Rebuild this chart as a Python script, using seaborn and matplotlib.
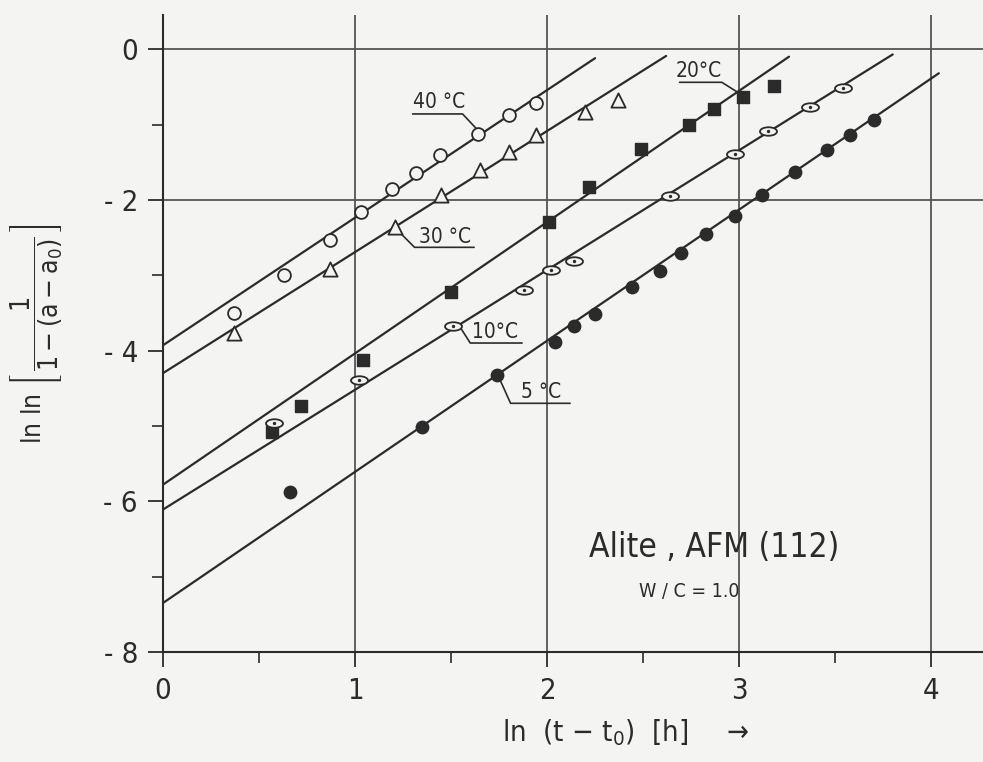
import matplotlib
matplotlib.use("Agg")
import matplotlib.pyplot as plt
from matplotlib.path import Path
import pandas as pd
import seaborn as sns

# Values
temps = ["40 °C", "30 °C", "20°C", "10°C", "5 °C"]

x_40 = [0.37, 0.63, 0.87, 1.03, 1.19, 1.32, 1.44, 1.64, 1.80, 1.94]
y_40 = [-3.50, -3.00, -2.53, -2.16, -1.85, -1.65, -1.40, -1.13, -0.88, -0.72]

x_30 = [0.37, 0.87, 1.21, 1.45, 1.65, 1.80, 1.94, 2.20, 2.37]
y_30 = [-3.77, -2.92, -2.36, -1.94, -1.60, -1.36, -1.14, -0.83, -0.68]

x_20 = [0.57, 0.72, 1.04, 1.50, 2.01, 2.22, 2.49, 2.74, 2.87, 3.02, 3.18]
y_20 = [-5.08, -4.74, -4.12, -3.22, -2.29, -1.83, -1.32, -1.01, -0.80, -0.64, -0.49]

x_10 = [0.58, 1.02, 1.51, 1.88, 2.02, 2.14, 2.64, 2.98, 3.15, 3.37, 3.54]
y_10 = [-4.96, -4.39, -3.67, -3.20, -2.93, -2.81, -1.95, -1.39, -1.08, -0.77, -0.51]

x_5 = [0.66, 1.35, 1.74, 2.04, 2.14, 2.25, 2.44, 2.59, 2.70, 2.83, 2.98, 3.12,
       3.29, 3.46, 3.58, 3.70]
y_5 = [-5.88, -5.01, -4.32, -3.89, -3.67, -3.51, -3.16, -2.94, -2.70, -2.45,
       -2.21, -1.94, -1.63, -1.34, -1.14, -0.94]

# straight fit lines: start and end of each one
line_x0 = [0.0, 0.0, 0.0, 0.0, 0.0]
line_y0 = [-3.93, -4.30, -5.78, -6.11, -7.35]
line_x1 = [2.25, 2.62, 3.26, 3.80, 4.04]
line_y1 = [-0.12, -0.09, -0.10, -0.07, -0.32]

x_ticks = [0, 1, 2, 3, 4]
y_ticks = [0, -2, -4, -6, -8]
y_ticklabels = ["0", "- 2", "- 4", "- 6", "- 8"]

ink = "#2b2b2b"
paper = "#f4f4f2"

sns.set_theme(style="ticks")
plt.rcParams["font.family"] = ["DejaVu Sans"]
plt.rcParams["font.stretch"] = "condensed"
plt.rcParams["mathtext.fontset"] = "dejavusans"

fig = plt.figure(figsize=(9.83, 7.62), dpi=100, facecolor=paper)
ax = fig.add_axes([0.1658, 0.1444, 0.8342, 0.8356])
ax.set_facecolor(paper)

# grid lines of the original drawing
for gx in [1, 2, 3, 4]:
    ax.axvline(gx, color="#555555", lw=1.3, zorder=1)
for gy in [0, -2]:
    ax.axhline(gy, color="#555555", lw=1.3, zorder=1)

# fit lines
fit = pd.DataFrame({
    "temp": temps + temps,
    "x": line_x0 + line_x1,
    "y": line_y0 + line_y1,
})
sns.lineplot(data=fit, x="x", y="y", hue="temp", palette=[ink] * 5,
             sort=False, estimator=None, legend=False, lw=1.6, ax=ax, zorder=2)

circ = Path.unit_circle()
eye = Path(circ.vertices * [1.0, 0.5], circ.codes)

sns.scatterplot(x=x_40, y=y_40, marker="o", s=85, facecolor=paper,
                edgecolor=ink, linewidth=1.3, ax=ax, zorder=3)
sns.scatterplot(x=x_30, y=y_30, marker="^", s=105, facecolor=paper,
                edgecolor=ink, linewidth=1.3, ax=ax, zorder=3)
sns.scatterplot(x=x_20, y=y_20, marker="s", s=85, color=ink,
                edgecolor=ink, linewidth=1, ax=ax, zorder=3)
sns.scatterplot(x=x_10, y=y_10, marker=eye, s=150, facecolor=paper,
                edgecolor=ink, linewidth=1.3, ax=ax, zorder=3)
sns.scatterplot(x=x_10, y=y_10, marker="o", s=6, color=ink,
                linewidth=0, ax=ax, zorder=4)
sns.scatterplot(x=x_5, y=y_5, marker="o", s=80, color=ink,
                edgecolor=ink, linewidth=1, ax=ax, zorder=3)

# temperature labels with leader lines
lab_kw = dict(fontsize=15, color=ink, ha="center", va="bottom", zorder=5)
ax.text(1.44, -0.84, temps[0], **lab_kw)
ax.plot([1.30, 1.56, 1.63], [-0.86, -0.86, -1.05], color=ink, lw=1.2)
ax.text(1.47, -2.62, temps[1], **lab_kw)
ax.plot([1.22, 1.31, 1.62], [-2.40, -2.63, -2.63], color=ink, lw=1.2)
ax.text(2.79, -0.42, temps[2], **lab_kw)
ax.plot([2.69, 2.91, 3.01], [-0.44, -0.44, -0.60], color=ink, lw=1.2)
ax.text(1.73, -3.88, temps[3], **lab_kw)
ax.plot([1.55, 1.60, 1.87], [-3.70, -3.90, -3.90], color=ink, lw=1.2)
ax.text(1.97, -4.68, temps[4], **lab_kw)
ax.plot([1.75, 1.81, 2.12], [-4.36, -4.70, -4.70], color=ink, lw=1.2)

ax.text(2.87, -6.62, "Alite , AFM (112)", fontsize=24, color=ink,
        ha="center", va="center")
ax.text(2.74, -7.20, "W / C = 1.0", fontsize=14, color=ink,
        ha="center", va="center")

ax.set_xlim(0, 4.27)
ax.set_ylim(-8, 0.45)
ax.set_xticks(x_ticks)
ax.set_xticks([0.5, 1.5, 2.5, 3.5], minor=True)
ax.set_yticks(y_ticks)
ax.set_yticklabels(y_ticklabels)
ax.set_yticks([-1, -3, -5, -7], minor=True)
ax.tick_params(which="major", direction="out", length=11, width=1.3,
               color=ink, labelcolor=ink, labelsize=21, pad=7)
ax.tick_params(which="minor", direction="out", length=8, width=1.2, color=ink)

for side in ["left", "bottom"]:
    ax.spines[side].set_color(ink)
    ax.spines[side].set_linewidth(1.5)
sns.despine(ax=ax)

ax.set_xlabel(r"ln  (t $-$ t$_0$)  [h]    $\rightarrow$", fontsize=21, color=ink)
ax.xaxis.set_label_coords(0.565, -0.102)
ax.set_ylabel(r"ln ln $\left[\,\dfrac{1}{1-(\mathrm{a}-\mathrm{a}_0)}\,\right]$",
              fontsize=19, color=ink)
ax.yaxis.set_label_coords(-0.12, 0.50)

fig.savefig("out.png", dpi=100, facecolor=paper)
